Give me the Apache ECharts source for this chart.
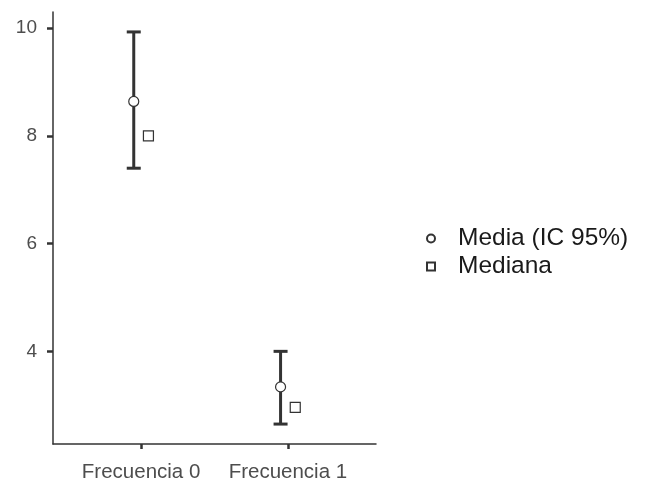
<!DOCTYPE html>
<html>
<head>
<meta charset="utf-8">
<script src="https://cdn.jsdelivr.net/npm/echarts@6/dist/echarts.min.js"></script>
<style>html,body{margin:0;padding:0;background:#fff;}#c{width:646px;height:484px;}</style>
</head>
<body>
<div id="c"></div>
<script>
var categories = ['Frecuencia 0', 'Frecuencia 1'];
var categoryPos = [1, 2];
var means = [8.64, 3.34];
var lower = [7.40, 2.65];
var upper = [9.93, 4.00];
var medians = [8.00, 2.96];
var yTicks = [4, 6, 8, 10];
var seriesNames = ['Media (IC 95%)', 'Mediana'];

var dodge = 0.05;
var meanData = categoryPos.map(function (p, i) { return [p - dodge, means[i]]; });
var medianData = categoryPos.map(function (p, i) { return [p + dodge, medians[i]]; });
var errData = categoryPos.map(function (p, i) { return [p - dodge, lower[i], upper[i]]; });

var chart = echarts.init(document.getElementById('c'), null, {renderer: 'canvas'});
var textColor = '#4d4d4d';
chart.setOption({
  animation: false,
  backgroundColor: '#ffffff',
  grid: {left: 53, right: 270, top: 12, bottom: 40, containLabel: false},
  xAxis: {
    type: 'value', min: 0.4, max: 2.6,
    splitLine: {show: false},
    axisLine: {show: true, lineStyle: {color: '#333333', width: 1.5}},
    axisTick: {show: true, customValues: categoryPos, length: 5, lineStyle: {color: '#333333', width: 2.5}},
    axisLabel: {
      customValues: categoryPos, margin: 18, color: textColor, fontSize: 20.5,
      fontFamily: 'Liberation Sans, Arial, sans-serif',
      formatter: function (v) { var i = categoryPos.indexOf(v); return i >= 0 ? categories[i] : ''; }
    }
  },
  yAxis: {
    type: 'value', min: 2.28, max: 10.3,
    splitLine: {show: false},
    axisLine: {show: true, lineStyle: {color: '#333333', width: 1.5}},
    axisTick: {show: true, customValues: yTicks, length: 6, lineStyle: {color: '#333333', width: 2.5}},
    axisLabel: {
      customValues: yTicks, margin: 16, color: textColor, fontSize: 19,
      fontFamily: 'Liberation Sans, Arial, sans-serif'
    }
  },
  legend: {
    orient: 'vertical', left: 421, top: 221,
    itemWidth: 8, itemHeight: 8, itemGap: 3,
    data: [{name: seriesNames[0], icon: 'circle'}, {name: seriesNames[1], icon: 'rect'}],
    textStyle: {fontSize: 24.5, color: '#1a1a1a', fontFamily: 'Liberation Sans, Arial, sans-serif', padding: [0, 0, 0, 18], lineHeight: 21}
  },
  series: [
    {
      type: 'custom', name: 'IC', z: 1,
      data: errData,
      encode: {x: 0, y: [1, 2]},
      renderItem: function (params, api) {
        var x = api.value(0);
        var lo = api.coord([x, api.value(1)]);
        var hi = api.coord([x, api.value(2)]);
        var hw = 7;
        var st = {stroke: '#333333', lineWidth: 3};
        return {type: 'group', children: [
          {type: 'line', shape: {x1: lo[0], y1: lo[1], x2: hi[0], y2: hi[1]}, style: st},
          {type: 'line', shape: {x1: lo[0] - hw, y1: lo[1], x2: lo[0] + hw, y2: lo[1]}, style: st},
          {type: 'line', shape: {x1: hi[0] - hw, y1: hi[1], x2: hi[0] + hw, y2: hi[1]}, style: st}
        ]};
      }
    },
    {
      type: 'scatter', name: seriesNames[0], z: 3,
      data: meanData, symbol: 'circle', symbolSize: 10,
      itemStyle: {color: '#ffffff', borderColor: '#333333', borderWidth: 1.2, opacity: 1}
    },
    {
      type: 'scatter', name: seriesNames[1], z: 3,
      data: medianData, symbol: 'rect', symbolSize: 10,
      itemStyle: {color: '#ffffff', borderColor: '#333333', borderWidth: 1.2, opacity: 1}
    }
  ]
});
</script>
</body>
</html>
